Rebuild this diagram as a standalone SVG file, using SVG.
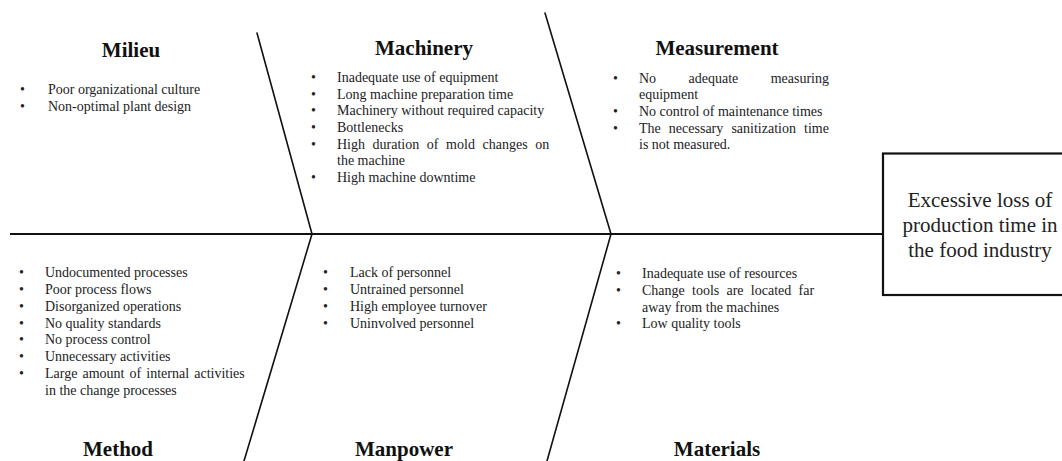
<svg xmlns="http://www.w3.org/2000/svg" width="1062" height="461" viewBox="0 0 1062 461">
<style>
.ln{stroke:#111;stroke-width:1.6;fill:none;stroke-linecap:round}
.sp{stroke:#111;stroke-width:2.2;fill:none}
.t{font-family:"Liberation Serif","Times New Roman",serif;font-size:21px;font-weight:bold;fill:#111;text-anchor:middle}
.b{font-family:"Liberation Serif","Times New Roman",serif;font-size:14px;fill:#222}
.c{font-family:"Liberation Serif","Times New Roman",serif;font-size:21px;fill:#222;text-anchor:middle}
</style>
<rect width="1062" height="461" fill="#fff"/>
<g id="connectors">
<line class="sp" x1="10" y1="234" x2="883" y2="234"/>
<line class="ln" x1="257" y1="33" x2="312" y2="234"/>
<line class="ln" x1="545" y1="13" x2="611" y2="234"/>
<line class="ln" x1="312" y1="234" x2="244" y2="461"/>
<line class="ln" x1="611" y1="234" x2="547" y2="461"/>
</g>
<g id="effect">
<rect x="883" y="153.5" width="200" height="141.5" fill="#fff" stroke="#111" stroke-width="2.2"/>
<text class="c" x="980" y="206.5">Excessive loss of</text>
<text class="c" x="980" y="232">production time in</text>
<text class="c" x="980" y="256.5">the food industry</text>
</g>
<g id="milieu">
<text class="t" x="131" y="57">Milieu</text>
<g class="b">
<text x="20" y="94">•</text><text x="48" y="94">Poor organizational culture</text>
<text x="20" y="111">•</text><text x="48" y="111">Non-optimal plant design</text>
</g>
</g>
<g id="machinery">
<text class="t" x="424" y="55">Machinery</text>
<g class="b">
<text x="311" y="82">•</text><text x="337" y="82">Inadequate use of equipment</text>
<text x="311" y="98.7">•</text><text x="337" y="98.7">Long machine preparation time</text>
<text x="311" y="115.3">•</text><text x="337" y="115.3">Machinery without required capacity</text>
<text x="311" y="132">•</text><text x="337" y="132">Bottlenecks</text>
<text x="311" y="148.7">•</text><text x="337" y="148.7" word-spacing="4.1">High duration of mold changes on</text>
<text x="337" y="165.3">the machine</text>
<text x="311" y="182">•</text><text x="337" y="182">High machine downtime</text>
</g>
</g>
<g id="measurement">
<text class="t" x="717" y="54.5">Measurement</text>
<g class="b">
<text x="613" y="82.7">•</text><text x="639" y="82.7" word-spacing="28.9">No adequate measuring</text>
<text x="639" y="99.3">equipment</text>
<text x="613" y="116">•</text><text x="639" y="116">No control of maintenance times</text>
<text x="613" y="132.7">•</text><text x="639" y="132.7" word-spacing="4.6">The necessary sanitization time</text>
<text x="639" y="149.3">is not measured.</text>
</g>
</g>
<g id="method">
<text class="t" x="118" y="456">Method</text>
<g class="b">
<text x="19" y="277">•</text><text x="45" y="277">Undocumented processes</text>
<text x="19" y="294">•</text><text x="45" y="294">Poor process flows</text>
<text x="19" y="311">•</text><text x="45" y="311">Disorganized operations</text>
<text x="19" y="327.7">•</text><text x="45" y="327.7">No quality standards</text>
<text x="19" y="344.3">•</text><text x="45" y="344.3">No process control</text>
<text x="19" y="361">•</text><text x="45" y="361">Unnecessary activities</text>
<text x="19" y="377.7">•</text><text x="45" y="377.7" word-spacing="1.6">Large amount of internal activities</text>
<text x="45" y="394.7">in the change processes</text>
</g>
</g>
<g id="manpower">
<text class="t" x="404" y="456">Manpower</text>
<g class="b">
<text x="323" y="277">•</text><text x="350" y="277">Lack of personnel</text>
<text x="323" y="294">•</text><text x="350" y="294">Untrained personnel</text>
<text x="323" y="311">•</text><text x="350" y="311">High employee turnover</text>
<text x="323" y="327.7">•</text><text x="350" y="327.7">Uninvolved personnel</text>
</g>
</g>
<g id="materials">
<text class="t" x="717" y="456">Materials</text>
<g class="b">
<text x="616" y="278.3">•</text><text x="642" y="278.3">Inadequate use of resources</text>
<text x="616" y="295">•</text><text x="642" y="295" word-spacing="3.75">Change tools are located far</text>
<text x="642" y="311.7">away from the machines</text>
<text x="616" y="328.3">•</text><text x="642" y="328.3">Low quality tools</text>
</g>
</g>
</svg>
